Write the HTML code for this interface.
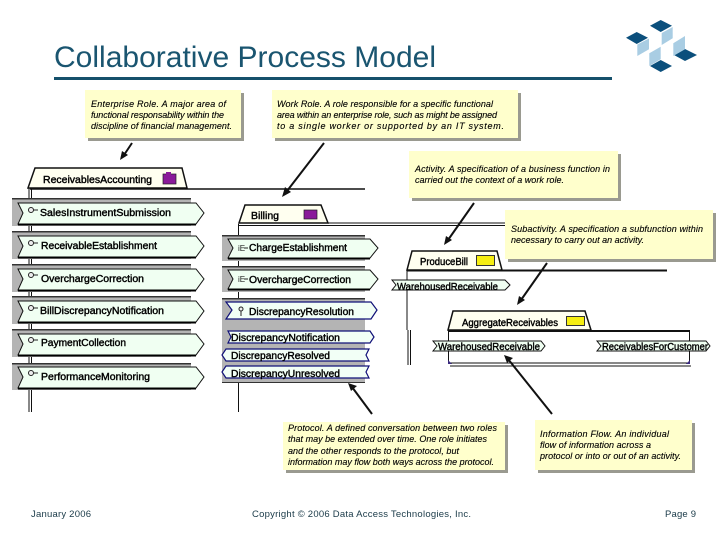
<!DOCTYPE html>
<html><head><meta charset="utf-8"><style>
html,body{margin:0;padding:0;background:#fff}
svg{display:block;filter:blur(.3px)}
text{font-family:"Liberation Sans",sans-serif}
.n{font-size:9px;font-style:italic;fill:#000;stroke:#000;stroke-width:.12}
.l{font-size:10px;fill:#000;stroke:#000;stroke-width:.4}
.f{font-size:9.5px;fill:#1a3a48}
.note{fill:#ffffcc}
.sh{fill:#9a9a90}
.g{fill:#b4b4b4}
.p{fill:#f0fff2;stroke:#111;stroke-width:1}
.b{stroke:#000;stroke-width:2;fill:none}
.q{fill:#f2fff6;stroke:#101078;stroke-width:1.2}
.tab{fill:#fffff0;stroke:#111;stroke-width:1.5}
.a{stroke:#111;stroke-width:2;fill:none}
.h{fill:#111}
.ln{stroke:#111;fill:none}
</style></head><body>
<svg width="720" height="540" viewBox="0 0 720 540" xmlns="http://www.w3.org/2000/svg">
<rect width="720" height="540" fill="#fff"/>
<text x="54" y="67" font-size="30" fill="#1a5570" textLength="382" lengthAdjust="spacingAndGlyphs">Collaborative Process Model</text>
<rect x="54" y="77" width="558" height="3" fill="#15506b"/>

<g fill="#0b4f7c">
<polygon points="650,25.7 660.7,20 672,25.7 660.7,32"/>
<polygon points="626,37.7 636.7,32 648,37.7 636.7,44"/>
<polygon points="674,55 685,49 697,55 685,61"/>
<polygon points="650,66 660.7,60 672,66 660.7,72"/>
</g>
<g fill="#a9cde3">
<polygon points="661.7,33 672.7,27 672.7,38.3 661.7,45"/>
<polygon points="637.3,44.5 649,38.5 649,49.3 637.3,56"/>
<polygon points="649.3,53.3 660.7,46.7 660.7,59.3 649.3,66"/>
<polygon points="673.3,43.3 685,36 685,49.3 673.3,56"/>
</g>

<!-- structure lines -->
<g class="ln">
<path d="M29 188V412M31.5 188V412" stroke-width="1"/>
<path d="M30 189H365" stroke-width="1.5"/>
<path d="M239 223H505M239 225.5H505" stroke-width="1"/>
<path d="M238.500 224V412" stroke-width="1"/>
<path d="M407 270V330" stroke-width="1"/>
<path d="M408 330V365M410.500 330V365" stroke-width="1"/>
<path d="M407 270.500H667" stroke-width="2"/>
<path d="M448 331H690" stroke-width="2"/>
<path d="M448.500 331V363M689.500 331V363" stroke-width="1"/>
<path d="M449 363H690M450 366H691" stroke-width="1"/>
</g>
<path d="M448 360l4 4h-4zM690 360l-4 4h4z" fill="#3a2a80"/>

<!-- ReceivablesAccounting tab -->
<polygon class="tab" points="35,168 182,168 187,188 28,188"/>
<text class="l" x="43" y="183" textLength="109" lengthAdjust="spacingAndGlyphs">ReceivablesAccounting</text>
<rect x="163" y="174" width="13" height="10" fill="#8a1a9a" stroke="#222" stroke-width=".7"/>
<rect x="166" y="172" width="5" height="3" fill="#8a1a9a"/>

<!-- Left rows -->
<g>
<rect class="g" x="12" y="198" width="179" height="28"/><rect x="12" y="198" width="179" height="1.500" fill="#333"/>
<polygon class="p" points="18,203 196,203 204,213 196,224 18,224 23,213"/>
<path class="b" d="M18 224.500H196"/>
<circle cx="31" cy="210" r="2.500" fill="#eee" stroke="#222"/><path d="M33 210h5" stroke="#222"/>
<text class="l" x="40" y="216" textLength="131" lengthAdjust="spacingAndGlyphs">SalesInstrumentSubmission</text>

<rect class="g" x="12" y="231" width="179" height="28"/><rect x="12" y="231" width="179" height="1.500" fill="#333"/>
<polygon class="p" points="18,236 196,236 204,246 196,257 18,257 23,246"/>
<path class="b" d="M18 257.500H196"/>
<circle cx="31" cy="243" r="2.500" fill="#eee" stroke="#222"/><path d="M33 243h5" stroke="#222"/>
<text class="l" x="41" y="249" textLength="116" lengthAdjust="spacingAndGlyphs">ReceivableEstablishment</text>

<rect class="g" x="12" y="264" width="179" height="28"/><rect x="12" y="264" width="179" height="1.500" fill="#333"/>
<polygon class="p" points="18,269 196,269 204,279 196,290 18,290 23,279"/>
<path class="b" d="M18 290.500H196"/>
<circle cx="31" cy="275" r="2.500" fill="#eee" stroke="#222"/><path d="M33 275h5" stroke="#222"/>
<text class="l" x="41" y="282" textLength="103" lengthAdjust="spacingAndGlyphs">OverchargeCorrection</text>

<rect class="g" x="12" y="296" width="179" height="28"/><rect x="12" y="296" width="179" height="1.500" fill="#333"/>
<polygon class="p" points="18,301 196,301 204,311 196,322 18,322 23,311"/>
<path class="b" d="M18 322.500H196"/>
<circle cx="31" cy="308" r="2.500" fill="#eee" stroke="#222"/><path d="M33 308h5" stroke="#222"/>
<text class="l" x="40" y="314" textLength="124" lengthAdjust="spacingAndGlyphs">BillDiscrepancyNotification</text>

<rect class="g" x="12" y="329" width="179" height="28"/><rect x="12" y="329" width="179" height="1.500" fill="#333"/>
<polygon class="p" points="18,334 196,334 204,344 196,355 18,355 23,344"/>
<path class="b" d="M18 355.500H196"/>
<circle cx="31" cy="340" r="2.500" fill="#eee" stroke="#222"/><path d="M33 340h5" stroke="#222"/>
<text class="l" x="41" y="346" textLength="85" lengthAdjust="spacingAndGlyphs">PaymentCollection</text>

<rect class="g" x="12" y="363" width="179" height="27"/><rect x="12" y="363" width="179" height="1.500" fill="#333"/>
<polygon class="p" points="18,367 196,367 204,377 196,388 18,388 23,377"/>
<path class="b" d="M18 388.500H196"/>
<circle cx="31" cy="373" r="2.500" fill="#eee" stroke="#222"/><path d="M33 373h5" stroke="#222"/>
<text class="l" x="41" y="380" textLength="109" lengthAdjust="spacingAndGlyphs">PerformanceMonitoring</text>
</g>

<!-- Billing -->
<polygon class="tab" points="245,205 321,205 328,223 239,223" stroke-width="1"/>
<text class="l" x="251" y="219" textLength="28" lengthAdjust="spacingAndGlyphs">Billing</text>
<rect x="304" y="210" width="13" height="9" fill="#8a1a9a" stroke="#222" stroke-width=".7"/>

<!-- Middle rows -->
<rect class="g" x="222" y="235" width="143" height="26"/><rect x="222" y="235" width="143" height="1.500" fill="#333"/>
<polygon class="p" points="228,239 370,239 378,248 370,258 228,258 233,248"/>
<path class="b" d="M228 258.500H370"/>
<text x="238" y="251" font-size="8" fill="#222">iE</text><path d="M244 248h4" stroke="#222"/>
<text class="l" x="249" y="251" textLength="98" lengthAdjust="spacingAndGlyphs">ChargeEstablishment</text>

<rect class="g" x="222" y="266" width="143" height="26"/><rect x="222" y="266" width="143" height="1.500" fill="#333"/>
<polygon class="p" points="228,270 370,270 378,279 370,289 228,289 233,279"/>
<path class="b" d="M228 289.500H370"/>
<text x="238" y="282" font-size="8" fill="#222">iE</text><path d="M244 279h4" stroke="#222"/>
<text class="l" x="249" y="283" textLength="102" lengthAdjust="spacingAndGlyphs">OverchargeCorrection</text>

<rect class="g" x="222" y="298" width="143" height="85"/><rect x="222" y="298" width="143" height="1.500" fill="#333"/>
<rect x="222" y="382" width="143" height="1" fill="#333"/>
<polygon class="q" points="226,302 371,302 377,310 371,319 226,319 232,310" stroke-width="1.800"/>
<circle cx="241" cy="309" r="2" fill="#eee" stroke="#222"/><path d="M241 311v5" stroke="#222"/>
<text class="l" x="249" y="315" textLength="105" lengthAdjust="spacingAndGlyphs">DiscrepancyResolution</text>
<polygon class="q" points="228,331 370,331 374,337 370,343 228,343 231,337"/>
<text class="l" x="231" y="341" textLength="109" lengthAdjust="spacingAndGlyphs">DiscrepancyNotification</text>
<polygon class="q" points="226,349 369,349 366,355 369,361 226,361 222,355"/>
<text class="l" x="231" y="359" textLength="99" lengthAdjust="spacingAndGlyphs">DiscrepancyResolved</text>
<polygon class="q" points="226,366 369,366 366,372 369,378 226,378 222,372"/>
<text class="l" x="231" y="377" textLength="109" lengthAdjust="spacingAndGlyphs">DiscrepancyUnresolved</text>

<!-- ProduceBill -->
<polygon class="tab" points="412,251 497,251 502,270 407,270"/>
<text class="l" x="420" y="265" textLength="48" lengthAdjust="spacingAndGlyphs">ProduceBill</text>
<rect x="476.500" y="255.500" width="18" height="10" fill="#f6ee10" stroke="#333"/>
<polygon class="p" points="392,280 505,280 510,285 505,290 392,290 396,285" stroke-width=".8"/>
<text class="l" x="397" y="290" textLength="101" lengthAdjust="spacingAndGlyphs">WarehousedReceivable</text>

<!-- Aggregate -->
<polygon class="tab" points="453,311 585,311 591,330 448,330"/>
<text class="l" x="462" y="326" textLength="96" lengthAdjust="spacingAndGlyphs">AggregateReceivables</text>
<rect x="566.500" y="316.500" width="18" height="9" fill="#f6ee10" stroke="#333"/>
<polygon class="p" points="433,341 541,341 545,346 541,351 433,351 437,346" stroke-width=".8"/>
<text class="l" x="438" y="350" textLength="102" lengthAdjust="spacingAndGlyphs">WarehousedReceivable</text>
<polygon class="p" points="597,341 706,341 710,346 706,351 597,351 601,346" stroke-width=".8"/>
<text class="l" x="602" y="350" textLength="106" lengthAdjust="spacingAndGlyphs">ReceivablesForCustomer</text>

<!-- Notes -->
<rect class="sh" x="88" y="93" width="156" height="48"/><rect class="note" x="85" y="90" width="156" height="48"/>
<text class="n" x="91" y="107" textLength="135">Enterprise Role. A major area of</text>
<text class="n" x="91" y="118" textLength="133">functional responsability within the</text>
<text class="n" x="91" y="129" textLength="141">discipline of financial management.</text>

<rect class="sh" x="275" y="93" width="246" height="48"/><rect class="note" x="272" y="90" width="246" height="48"/>
<text class="n" x="277" y="107" textLength="216">Work Role. A role responsible for a specific functional</text>
<text class="n" x="277" y="118" textLength="220">area within an enterprise role, such as might be assigned</text>
<text class="n" x="277" y="129" textLength="227">to a single worker or supported by an IT system.</text>

<rect class="sh" x="412" y="154" width="209" height="47"/><rect class="note" x="409" y="151" width="209" height="47"/>
<text class="n" x="415" y="172" textLength="195">Activity. A specification of a business function in</text>
<text class="n" x="415" y="183" textLength="149">carried out the context of a work role.</text>

<rect class="sh" x="508" y="213" width="208" height="49"/><rect class="note" x="505" y="210" width="208" height="49"/>
<text class="n" x="511" y="232" textLength="192">Subactivity. A specification a subfunction within</text>
<text class="n" x="511" y="243" textLength="133">necessary to carry out an activity.</text>

<rect class="sh" x="286" y="425" width="222" height="48"/><rect class="note" x="283" y="422" width="222" height="48"/>
<text class="n" x="288" y="431" textLength="209">Protocol. A defined conversation between two roles</text>
<text class="n" x="288" y="442" textLength="199">that may be extended over time. One role initiates</text>
<text class="n" x="288" y="454" textLength="171">and the other responds to the protocol, but</text>
<text class="n" x="288" y="465" textLength="206">information may flow both ways across the protocol.</text>

<rect class="sh" x="538" y="423" width="157" height="50"/><rect class="note" x="535" y="420" width="157" height="50"/>
<text class="n" x="540" y="437" textLength="129">Information Flow. An individual</text>
<text class="n" x="540" y="448" textLength="111">flow of information across a</text>
<text class="n" x="540" y="459" textLength="141">protocol or into or out of an activity.</text>

<!-- Arrows -->
<g class="a">
<path d="M132 143L124 155"/><path d="M324 143L287 191"/>
<path d="M474 203L448 240"/><path d="M547 263L521 300"/>
<path d="M372 414L352 387"/><path d="M552 414L508 359"/>
</g>
<g class="h">
<polygon points="120,160 122,151 128,155"/>
<polygon points="282,197 285,187 291,192"/>
<polygon points="444,245 446,236 452,240"/>
<polygon points="517,305 519,296 525,300"/>
<polygon points="348,383 357,386 351,391"/>
<polygon points="504,355 513,358 507,363"/>
</g>

<!-- Footer -->
<text class="f" x="31" y="517" textLength="60">January 2006</text>
<text class="f" x="252" y="517" textLength="219">Copyright © 2006 Data Access Technologies, Inc.</text>
<text class="f" x="665" y="517" textLength="31">Page 9</text>
</svg>
</body></html>
